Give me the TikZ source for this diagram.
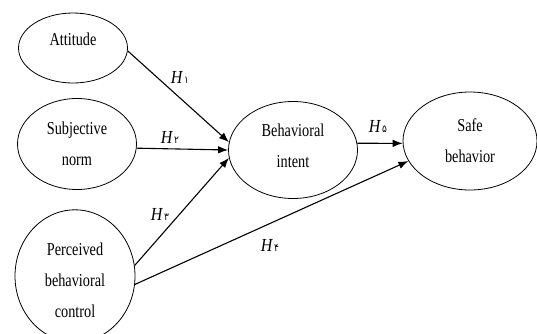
\documentclass[tikz,border=0pt]{standalone}
\usepackage{fontspec}
\setmainfont{Liberation Serif}
\newfontfamily\fadigits[Script=Arabic]{DejaVu Sans}
\usetikzlibrary{shapes.geometric,arrows.meta}
\newcommand{\st}[1]{\scalebox{1.02}[1.3]{\fontsize{14}{24}\selectfont\begin{tabular}{@{}c@{}}#1\end{tabular}}}
\newcommand{\hyp}[1]{\scalebox{1}[1.15]{\fontsize{16}{18}\selectfont\textit{H}\kern1pt{\fadigits\fontsize{9}{10}\selectfont #1}}}
\tikzset{
  construct/.style={ellipse, draw, line width=0.8pt, inner sep=0pt},
  path/.style={line width=1.1pt, -{Latex[length=10pt,width=7.5pt]}},
  hlabel/.style={inner sep=0pt}
}
\begin{document}
\begin{tikzpicture}[x=1pt,y=-1pt]
\clip (0,0) rectangle (537,333);
\node[construct, minimum width=109pt, minimum height=70pt] (att) at (73,48) {\raisebox{9pt}[\height][\depth]{\st{Attitude}}};
\node[construct, minimum width=119pt, minimum height=91pt] (sn) at (77,144) {\st{Subjective\\norm}};
\node[construct, minimum width=120pt, minimum height=131pt] (pbc) at (75,276) {\raisebox{-4pt}[\height][\depth]{\st{Perceived\\behavioral\\control}}};
\node[construct, minimum width=129pt, minimum height=97pt] (bi) at (293,150) {\raisebox{4pt}[\height][\depth]{\st{Behavioral\\intent}}};
\node[construct, minimum width=134pt, minimum height=98pt] (sb) at (470,141) {\st{Safe\\behavior}};
\draw[path] (att.-3) -- (bi.173);
\draw[path] (sn.-4) -- (bi.180);
\draw[path] (pbc.10) -- (bi.187);
\draw[path] (bi.6) -- (sb.182);
\draw[path] (pbc.-8) -- (sb.198);
\node[hlabel] (h1) at (180,77) {\hyp{۱}};
\node[hlabel] (h2) at (170,137) {\hyp{۲}};
\node[hlabel] (h3) at (160,214) {\hyp{۳}};
\node[hlabel] (h4) at (270,245) {\hyp{۴}};
\node[hlabel] (h5) at (378,126) {\hyp{۵}};
\end{tikzpicture}
\end{document}
